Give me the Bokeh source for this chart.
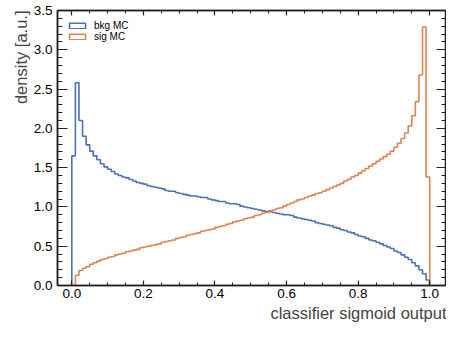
import numpy as np
from bokeh.plotting import figure
from bokeh.models import (LinearAxis, Title, Legend, LegendItem, ColumnDataSource,
                          Range1d, SingleIntervalTicker, PrintfTickFormatter,
                          CustomJSTickFormatter)
from bokeh.embed import file_html
from bokeh.resources import INLINE

# ---- data ----
bin_lo = 0.0
bin_hi = 1.0
n_bins = 100

bkg_mc = [1.65, 2.58, 2.10, 1.90, 1.79, 1.71, 1.65, 1.60, 1.55, 1.51,
          1.48, 1.45, 1.42, 1.40, 1.38, 1.37, 1.35, 1.33, 1.31, 1.30,
          1.29, 1.27, 1.26, 1.25, 1.24, 1.23, 1.21, 1.20, 1.20, 1.18,
          1.17, 1.16, 1.15, 1.14, 1.14, 1.13, 1.12, 1.12, 1.10, 1.09,
          1.08, 1.07, 1.07, 1.05, 1.04, 1.04, 1.03, 1.01, 1.00, 0.99,
          0.98, 0.97, 0.96, 0.95, 0.94, 0.94, 0.93, 0.92, 0.91, 0.90,
          0.90, 0.89, 0.87, 0.86, 0.85, 0.84, 0.83, 0.82, 0.80, 0.79,
          0.78, 0.77, 0.76, 0.74, 0.73, 0.71, 0.70, 0.68, 0.67, 0.65,
          0.63, 0.62, 0.60, 0.58, 0.57, 0.55, 0.53, 0.51, 0.49, 0.47,
          0.44, 0.42, 0.39, 0.36, 0.33, 0.29, 0.25, 0.20, 0.15, 0.07]

sig_mc = [0.01, 0.13, 0.19, 0.22, 0.24, 0.27, 0.29, 0.31, 0.33, 0.34,
          0.36, 0.37, 0.39, 0.40, 0.41, 0.43, 0.44, 0.45, 0.46, 0.48,
          0.49, 0.50, 0.51, 0.52, 0.53, 0.55, 0.56, 0.57, 0.58, 0.60,
          0.61, 0.62, 0.64, 0.65, 0.66, 0.67, 0.69, 0.70, 0.71, 0.72,
          0.74, 0.75, 0.76, 0.78, 0.79, 0.81, 0.82, 0.83, 0.85, 0.86,
          0.87, 0.89, 0.90, 0.92, 0.93, 0.95, 0.96, 0.98, 0.99, 1.01,
          1.03, 1.05, 1.07, 1.09, 1.10, 1.12, 1.14, 1.15, 1.17, 1.18,
          1.20, 1.22, 1.24, 1.26, 1.28, 1.30, 1.33, 1.35, 1.38, 1.40,
          1.43, 1.46, 1.49, 1.52, 1.55, 1.58, 1.61, 1.64, 1.67, 1.71,
          1.76, 1.81, 1.87, 1.94, 2.03, 2.16, 2.34, 2.68, 3.29, 1.38]

series_labels = ["bkg MC", "sig MC"]
x_label = "classifier sigmoid output"
y_label = "density [a.u.]"

BLUE = "#4C72B0"
ORANGE = "#DD8452"
FONT = "Liberation Sans"
AX = "#222222"

edges = np.linspace(bin_lo, bin_hi, n_bins + 1)


def step_xy(vals):
    xs = np.concatenate([[edges[0]], np.repeat(edges, 2)[1:-1], [edges[-1]]])
    ys = np.concatenate([[0.0], np.repeat(np.asarray(vals, float), 2), [0.0]])
    return xs, ys


p = figure(width=446, height=323, output_backend="svg", toolbar_location=None,
           x_range=Range1d(-0.04, 1.047), y_range=Range1d(0, 3.5),
           min_border_left=57, min_border_right=0, min_border_top=10,
           min_border_bottom=38, x_axis_location=None, y_axis_location=None)
p.xgrid.visible = False
p.ygrid.visible = False
p.outline_line_color = AX
p.outline_line_width = 1.5
p.background_fill_color = "white"
p.border_fill_color = "white"

for vals, col in [(bkg_mc, BLUE), (sig_mc, ORANGE)]:
    xs, ys = step_xy(vals)
    p.line(xs, ys, line_color=col, line_width=1.6)

# legend proxies (outlined boxes, nothing drawn in the plot area)
legend_items = []
for lab, col in zip(series_labels, [BLUE, ORANGE]):
    src = ColumnDataSource(dict(l=[np.nan], r=[np.nan], t=[np.nan], b=[np.nan]))
    r = p.quad(left="l", right="r", top="t", bottom="b", source=src,
               fill_alpha=0, line_color=col, line_width=1.6)
    legend_items.append(LegendItem(label=lab, renderers=[r], index=0))

legend = Legend(items=legend_items, location="top_left", margin=10, padding=3,
                glyph_width=20, glyph_height=7, label_text_font_size="10px",
                label_text_font=FONT, label_text_color="black",
                label_standoff=7, spacing=0,
                label_height=11, border_line_color=None,
                background_fill_alpha=0)
p.add_layout(legend)

xt = SingleIntervalTicker(interval=0.2, num_minor_ticks=4)
yt = SingleIntervalTicker(interval=0.5, num_minor_ticks=5)
blank = CustomJSTickFormatter(code="return ''")


def style(ax, major, minor, labels=True):
    ax.axis_line_color = AX
    ax.axis_line_width = 1.5
    ax.major_tick_line_color = AX
    ax.minor_tick_line_color = AX
    ax.major_tick_line_width = 1.2
    ax.minor_tick_line_width = 1.0
    ax.major_tick_in = major
    ax.major_tick_out = 0
    ax.minor_tick_in = minor
    ax.minor_tick_out = 0
    ax.major_label_text_font = FONT
    ax.major_label_text_font_size = "13.5px"
    ax.major_label_text_color = "black"
    ax.axis_label_standoff = 0
    if not labels:
        ax.formatter = blank
        ax.major_label_standoff = 0
        ax.major_label_text_font_size = "0px"
        ax.axis_label_text_font_size = "0px"


bx = LinearAxis(ticker=xt, formatter=PrintfTickFormatter(format="%.1f"))
style(bx, 5, 3)
bx.major_label_standoff = 3
p.add_layout(bx, "below")

tx = LinearAxis(ticker=xt)
style(tx, 5, 3, labels=False)
p.add_layout(tx, "above")

ly = LinearAxis(ticker=yt, formatter=PrintfTickFormatter(format="%.1f"))
style(ly, 10, 5)
ly.major_label_standoff = 5
p.add_layout(ly, "left")

ry = LinearAxis(ticker=yt)
style(ry, 10, 5, labels=False)
p.add_layout(ry, "right")

p.add_layout(Title(text=x_label, align="right", text_font=FONT,
                   text_font_size="16.5px", text_font_style="normal",
                   offset=0, standoff=2), "below")
p.add_layout(Title(text=y_label, align="right", text_font=FONT,
                   text_font_size="16.5px", text_font_style="normal",
                   offset=0, standoff=2), "left")

open("out.html", "w").write(file_html(p, INLINE))
